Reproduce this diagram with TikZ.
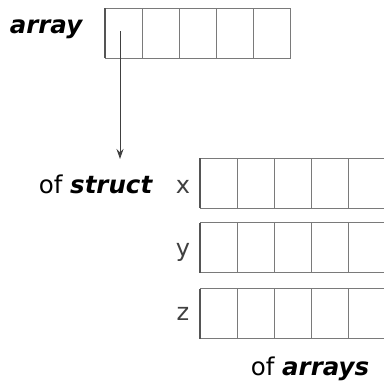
\documentclass[tikz,border=0pt]{standalone}
\usepackage{fontspec}
\setmainfont{DejaVu Sans}
\usetikzlibrary{arrows.meta}
\definecolor{cellgray}{HTML}{7A7A7A}
\definecolor{edgegray}{HTML}{555555}
\definecolor{lblgray}{HTML}{404040}
\begin{document}
\begin{tikzpicture}[x=1pt,y=-1pt,
  cell/.style={draw=cellgray, line width=1pt, minimum width=37pt, minimum height=50pt, inner sep=0pt, outer sep=0pt},
  lbl/.style={font=\fontsize{24.5}{28}\selectfont, text=black, inner sep=0pt, anchor=base},
  vlbl/.style={font=\fontsize{24}{28}\selectfont, text=lblgray, inner sep=0pt, anchor=base},
  ptr/.style={draw=black!75, line width=1pt, -{Stealth[length=10pt,width=7pt]}},
  leftedge/.style={draw=edgegray, line width=1.5pt}]
\useasboundingbox (0,0) rectangle (384,383);
\clip (0,0) rectangle (384,383);
% top array
\foreach \i in {1,...,5} {
  \node[cell] (a\i) at ({123.5+37*(\i-1)},33.3) {};
}
\draw[leftedge] (a1.north west) -- (a1.south west);
% struct arrays
\foreach \r/\yy in {x/183.3, y/247.7, z/313.7} {
  \foreach \i in {1,...,5} {
    \node[cell] (\r\i) at ({218.5+37*(\i-1)},\yy) {};
  }
  \draw[leftedge] (\r1.north west) -- (\r1.south west);
}
% labels
\node[lbl] (tarray) at (46,33) {\bfseries\itshape array};
\node[lbl] (tstruct) at (95.5,193) {of \bfseries\itshape struct};
\node[lbl] (tarrays) at (310,375.5) {of \bfseries\itshape arrays};
\node[vlbl] (lx) at (183,193) {x};
\node[vlbl] (ly) at (183,256) {y};
\node[vlbl] (lz) at (183,320) {z};
% pointer
\coordinate (pstart) at (120,31);
\coordinate (pend) at (120,159);
\draw[ptr] (pstart) -- (pend);
\end{tikzpicture}
\end{document}
